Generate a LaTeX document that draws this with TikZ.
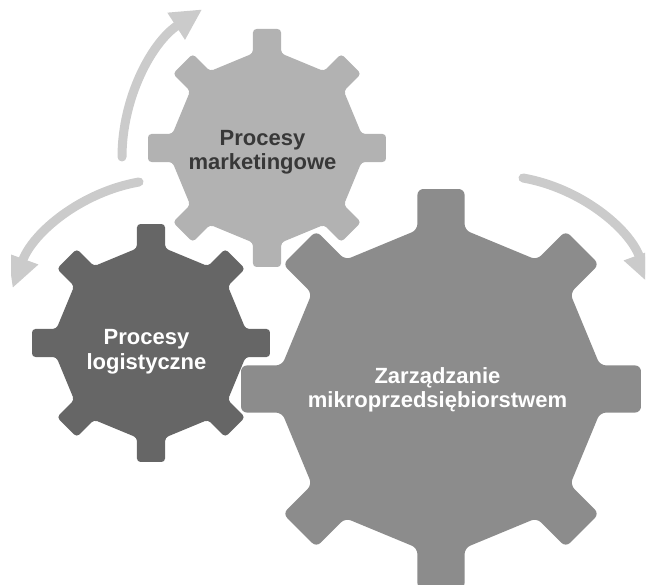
\documentclass[tikz,border=0pt]{standalone}
\usepackage{fontspec}
\setmainfont{Liberation Sans}
\usetikzlibrary{arrows.meta}
\definecolor{gearlight}{HTML}{B2B2B2}
\definecolor{geardark}{HTML}{666666}
\definecolor{gearmid}{HTML}{8C8C8C}
\definecolor{arrowgray}{HTML}{CBCBCB}
\definecolor{textdark}{HTML}{383838}
\tikzset{
  gearlabel/.style={align=center, inner sep=0pt, font=\bfseries\fontsize{22}{24.5}\selectfont},
  cyclearrow/.style={arrowgray, line width=9pt, line cap=round, -{Triangle[width=30pt,length=31pt]}},
}
% eight-tooth gear: #1 centre, #2 outer radius, #3 fill colour
\newcommand{\gear}[3]{%
  \pgfmathsetmacro\gd{0.795*#2}\pgfmathsetmacro\gw{0.118*#2}%
  \pgfmathsetmacro\grb{veclen(\gd,\gw)}\pgfmathsetmacro\gpb{atan(\gw/\gd)}%
  \pgfmathsetmacro\grt{veclen(#2,\gw)}\pgfmathsetmacro\gpt{atan(\gw/#2)}%
  \pgfmathsetmacro\grm{\grb*cos(22.5-\gpb)}\pgfmathsetmacro\grc{0.03*#2}%
  \fill[#3, rounded corners=\grc pt, shift={#1}] (337.5:\grm)
    \foreach \a in {0,45,...,315} {
      -- (\a-\gpb:\grb) -- (\a-\gpt:\grt) -- (\a+\gpt:\grt) -- (\a+\gpb:\grb)
    } -- cycle;
}

\begin{document}
\begin{tikzpicture}[x=1pt, y=1pt]
  \useasboundingbox (0,0) rectangle (647,585);
  \clip (11,0) rectangle (645,585);

  % arrows round the gears
  \coordinate (upstart) at (122,428);
  \coordinate (leftstart) at (139,403);
  \coordinate (rightstart) at (523,407);
  \draw[cyclearrow] (upstart) arc[start angle=180, end angle=123, radius=176];
  \draw[cyclearrow] (leftstart) arc[start angle=100, end angle=160, radius=165];
  \draw[cyclearrow] (rightstart) arc[start angle=80, end angle=20, radius=165];

  % gears
  \gear{(267,437)}{119}{gearlight}
  \gear{(151,242)}{119}{geardark}
  \gear{(441,196)}{200}{gearmid}

  \node[gearlabel, text=textdark] (mkt) at (262.5,432.5) {Procesy\\marketingowe};
  \node[gearlabel, text=white] (log) at (146.5,233) {Procesy\\logistyczne};
  \node[gearlabel, text=white] (mgmt) at (437.5,195) {Zarządzanie\\mikroprzedsiębiorstwem};
\end{tikzpicture}
\end{document}
